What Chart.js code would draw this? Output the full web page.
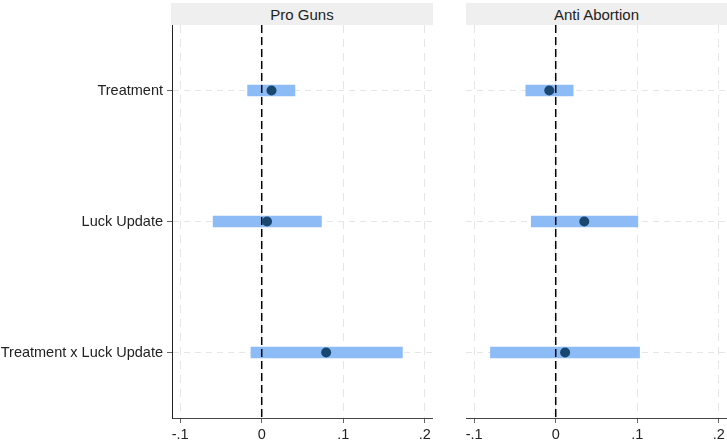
<!DOCTYPE html>
<html>
<head>
<meta charset="utf-8">
<script src="https://cdn.jsdelivr.net/npm/chart.js@4"></script>
<style>
  body { margin: 0; background: #fff; width: 727px; height: 444px; position: relative; overflow: hidden; font-family: "Liberation Sans", Arial, sans-serif; }
  .panel-head { position: absolute; top: 3px; height: 22px; line-height: 23px; background: #efefef; text-align: center; font-size: 15px; color: #222; }
  .box { position: absolute; top: 25px; height: 419px; }
</style>
</head>
<body>
<div class="panel-head" style="left:171px;width:262px;">Pro Guns</div>
<div class="panel-head" style="left:466px;width:261px;">Anti Abortion</div>
<div class="box" style="left:0;width:433px;"><canvas id="leftChart"></canvas></div>
<div class="box" style="left:440px;width:287px;"><canvas id="rightChart"></canvas></div>
<script>
// ===== Data =====
const terms = ["Treatment", "Luck Update", "Treatment x Luck Update"];
const xTicks = [-0.1, 0, 0.1, 0.2];
const xTickLabels = ["-.1", "0", ".1", ".2"];

const gunsEst = [0.012, 0.0065, 0.079];
const gunsLow = [-0.0173, -0.0596, -0.0132];
const gunsHigh = [0.0407, 0.0732, 0.1725];

const abortEst = [-0.0079, 0.035, 0.0115];
const abortLow = [-0.0367, -0.030, -0.080];
const abortHigh = [0.0214, 0.1007, 0.1028];

const refLine = 0;

// ===== Zero reference line, drawn after the bars but under the dots =====
const zeroLine = {
  id: "zeroLine",
  afterDatasetDraw(chart, args) {
    if (args.index !== 1) return;
    const x = chart.scales.x.getPixelForValue(refLine);
    const { top, bottom } = chart.chartArea;
    const ctx = chart.ctx;
    ctx.save();
    ctx.strokeStyle = "#000";
    ctx.lineWidth = 1.5;
    ctx.setLineDash([8, 4]);
    ctx.beginPath();
    ctx.moveTo(x, top);
    ctx.lineTo(x, bottom);
    ctx.stroke();
    ctx.restore();
  }
};

Chart.defaults.font.family = '"Liberation Sans", Arial, sans-serif';
Chart.defaults.font.size = 14;
Chart.defaults.color = "#222";

function makeChart(id, est, low, high, showY, yWidth) {
  const ctx = document.getElementById(id);
  return new Chart(ctx, {
    type: "bar",
    data: {
      labels: terms,
      datasets: [
        {
          type: "line",
          data: est,
          showLine: false,
          pointRadius: 5,
          pointBackgroundColor: "#1a476f",
          pointBorderColor: "#1a476f",
          pointBorderWidth: 0
        },
        {
          type: "bar",
          data: terms.map((t, i) => [low[i], high[i]]),
          backgroundColor: "#8dbbf5",
          borderWidth: 0,
          barThickness: 11
        }
      ]
    },
    options: {
      indexAxis: "y",
      responsive: true,
      maintainAspectRatio: false,
      animation: false,
      layout: { padding: 0, autoPadding: false },
      plugins: { legend: { display: false }, tooltip: { enabled: false } },
      scales: {
        x: {
          type: "linear",
          min: -0.11,
          max: 0.21,
          afterBuildTicks: (scale) => { scale.ticks = xTicks.map(v => ({ value: v })); },
          afterFit: (scale) => {
            scale.height = 26;
            scale.paddingLeft = 0;
            scale.paddingRight = 0;
          },
          ticks: {
            padding: 3,
            color: "#222",
            font: { size: 14.5 },
            callback: (v) => xTickLabels[xTicks.indexOf(v)]
          },
          grid: {
            color: "#e6e6e6",
            lineWidth: 1,
            tickLength: 5,
            tickColor: "#666"
          },
          border: { display: true, color: "#444", width: 1, dash: [8, 6] }
        },
        y: {
          type: "category",
          offset: true,
          afterFit: (scale) => {
            scale.width = yWidth;
            scale.paddingTop = 0;
            scale.paddingBottom = 0;
          },
          ticks: { display: showY, padding: 4, color: "#222", font: { size: 14.5 } },
          grid: {
            offset: false,
            color: "#e6e6e6",
            lineWidth: 1,
            drawTicks: showY,
            tickLength: 5,
            tickColor: "#666"
          },
          border: { display: showY, color: "#222", width: 1, dash: [6, 5] }
        }
      }
    },
    plugins: [zeroLine]
  });
}

makeChart("leftChart", gunsEst, gunsLow, gunsHigh, true, 172);
makeChart("rightChart", abortEst, abortLow, abortHigh, false, 26);
</script>
</body>
</html>
